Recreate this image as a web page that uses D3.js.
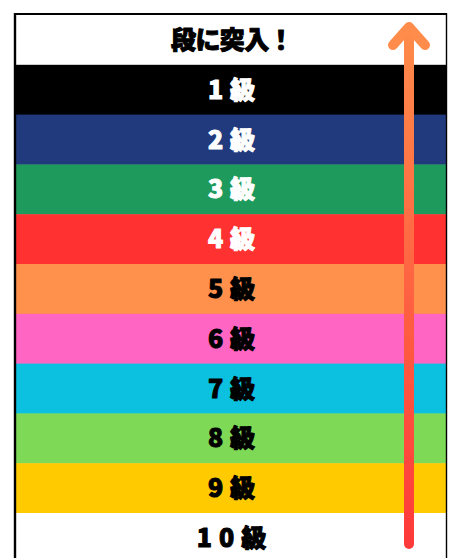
<!DOCTYPE html>
<html>
<head>
<meta charset="utf-8">
<script src="https://cdn.jsdelivr.net/npm/d3@7"></script>
<style>
html,body{margin:0;padding:0;background:#fff;}
svg{display:block;}
text{font-family:"Noto Sans CJK JP","Noto Sans",sans-serif;font-weight:900;}
</style>
</head>
<body>
<svg id="chart" width="459" height="558"></svg>
<script>
const title = "段に突入！";
const categories = ["1級","2級","3級","4級","5級","6級","7級","8級","9級","10級"];
const rowColors = ["#000000","#213A7E","#1E9A5D","#FF3131","#FF914D","#FF66C4","#0CC0DF","#7ED957","#FFCA00","#FFFFFF"];
const textColors = ["#FFFFFF","#FFFFFF","#FFFFFF","#FFFFFF","#000000","#000000","#000000","#000000","#000000","#000000"];
const arrowColors = ["#FF8C4A","#FF3A3A"];

(function () {
const svg = d3.select("#chart");
const W = 459, H = 558;
const x0 = 16, x1 = 446, y0 = 15;

const y = d3.scaleBand()
  .domain(["header", ...categories])
  .range([y0, y0 + 11 * 49.8])
  .paddingInner(0);

const rows = categories.map((c, i) => ({cat: c, fill: rowColors[i], tc: textColors[i]}));

// header
svg.append("rect").attr("x", x0).attr("y", y("header")).attr("width", x1 - x0).attr("height", y.bandwidth()).attr("fill", "#fff");
svg.append("text")
  .attr("x", (x0 + x1) / 2 + 1)
  .attr("y", y("header") + y.bandwidth() / 2)
  .attr("dy", "0.36em")
  .attr("text-anchor", "middle")
  .attr("font-size", 25)
  .attr("letter-spacing", -0.6)
  .attr("fill", "#000")
  .attr("stroke", "#000")
  .attr("stroke-width", 1)
  .attr("stroke-linejoin", "round")
  .text(title);

const g = svg.append("g").selectAll("g").data(rows).join("g");
g.append("rect")
  .attr("x", x0)
  .attr("y", d => y(d.cat))
  .attr("width", x1 - x0)
  .attr("height", y.bandwidth() + 0.5)
  .attr("fill", d => d.fill);
g.append("text")
  .attr("x", (x0 + x1) / 2 + 4)
  .attr("y", d => y(d.cat) + y.bandwidth() / 2)
  .attr("dy", "0.36em")
  .attr("text-anchor", "middle")
  .attr("font-size", 25)
  .attr("letter-spacing", 7)
  .attr("fill", d => d.tc)
  .attr("stroke", d => d.tc)
  .attr("stroke-width", 1)
  .attr("stroke-linejoin", "round")
  .text(d => d.cat);

// borders
svg.append("line").attr("x1", 15).attr("x2", 15).attr("y1", 13).attr("y2", H).attr("stroke", "#000").attr("stroke-width", 2.4);
svg.append("line").attr("x1", 14).attr("x2", 447).attr("y1", 14).attr("y2", 14).attr("stroke", "#000").attr("stroke-width", 2);
svg.append("line").attr("x1", 446.5).attr("x2", 446.5).attr("y1", 13).attr("y2", H).attr("stroke", "#000").attr("stroke-width", 1.4);

// arrow
const defs = svg.append("defs");
const grad = defs.append("linearGradient").attr("id", "ag")
  .attr("gradientUnits", "userSpaceOnUse")
  .attr("x1", 0).attr("x2", 0).attr("y1", 23).attr("y2", 547);
grad.append("stop").attr("offset", 0).attr("stop-color", arrowColors[0]);
grad.append("stop").attr("offset", 1).attr("stop-color", arrowColors[1]);

const ax = 409;
svg.append("line").attr("x1", ax).attr("x2", ax).attr("y1", 28).attr("y2", 544)
  .attr("stroke", "url(#ag)").attr("stroke-width", 10).attr("stroke-linecap", "round");
svg.append("path")
  .attr("d", d3.line()([[393, 45], [ax, 27], [425, 45]]))
  .attr("fill", "none").attr("stroke", arrowColors[0]).attr("stroke-width", 10)
  .attr("stroke-linecap", "round").attr("stroke-linejoin", "round");
})();
</script>
</body>
</html>
